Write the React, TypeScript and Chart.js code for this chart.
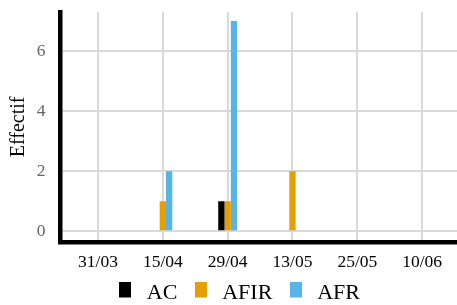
import React, { useEffect, useRef } from 'react';
import { Chart, registerables } from 'chart.js';

Chart.register(...registerables);

const categories = ['31/03', '15/04', '29/04', '13/05', '25/05', '10/06'];
const seriesNames = ['AC', 'AFIR', 'AFR'];
const acValues = [0, 0, 1, 0, 0, 0];
const afirValues = [0, 1, 1, 2, 0, 0];
const afrValues = [0, 2, 7, 0, 0, 0];
const seriesColors = ['#000000', '#E69F00', '#56B4E9'];
const yTicks = [0, 2, 4, 6];
const yTitle = 'Effectif';

const SERIF = "'Liberation Serif', 'Times New Roman', serif";

function legendSwatch(color: string) {
  const c = document.createElement('canvas');
  c.width = 12;
  c.height = 23;
  const g = c.getContext('2d')!;
  g.fillStyle = color;
  g.fillRect(0, 0, 12, 16);
  return c;
}

export default function App() {
  const ref = useRef<HTMLCanvasElement>(null);
  useEffect(() => {
    document.body.style.margin = '0';
    const values = [acValues, afirValues, afrValues];
    const swatches = seriesColors.map(legendSwatch);
    const chart = new Chart(ref.current!, {
      type: 'bar',
      data: {
        datasets: seriesNames.map((name, s) => ({
          label: name,
          data: categories.map((_, i) => ({ x: i, y: values[s][i] === 0 ? null : values[s][i] })),
          backgroundColor: seriesColors[s],
          borderWidth: 0,
          inflateAmount: 0,
          barThickness: 6.3,
        })),
      },
      options: {
        animation: false,
        responsive: false,
        events: [],
        layout: { padding: { top: 12, right: -18, bottom: 0, left: 0 } },
        scales: {
          x: {
            type: 'linear',
            min: -0.579,
            max: 5.538,
            offset: false,
            grid: { color: '#d9d9d9', lineWidth: 2, drawTicks: false, offset: false },
            border: { display: true, color: '#000000', width: 4.5 },
            afterBuildTicks: (s: any) => {
              s.ticks = categories.map((_, i) => ({ value: i }));
            },
            ticks: {
              autoSkip: false,
              maxRotation: 0,
              padding: 10.6,
              color: '#000000',
              font: { family: SERIF, size: 17.5 },
              callback: (v: any) => categories[v as number] ?? '',
            },
            afterFit: (s: any) => {
              s.height = 27.2;
              s.paddingLeft = 0;
              s.paddingRight = 0;
            },
          },
          y: {
            type: 'linear',
            min: -0.35,
            max: 7.3,
            beginAtZero: false,
            grid: { color: '#d9d9d9', lineWidth: 2, drawTicks: false },
            border: { display: true, color: '#000000', width: 4.5 },
            afterBuildTicks: (s: any) => {
              s.ticks = yTicks.map((v) => ({ value: v }));
            },
            ticks: {
              padding: 15,
              color: '#666666',
              font: { family: SERIF, size: 17.5 },
            },
            title: {
              display: true,
              text: yTitle,
              color: '#000000',
              font: { family: SERIF, size: 20 },
              padding: { top: 7, bottom: 0 },
            },
            afterFit: (s: any) => {
              s.width = 60.5;
              s.paddingTop = 0;
              s.paddingBottom = 0;
            },
          },
        },
        plugins: {
          legend: {
            position: 'bottom',
            maxHeight: 36,
            labels: {
              boxWidth: 20.8,
              usePointStyle: true,
              padding: 13,
              color: '#000000',
              font: { family: SERIF, size: 22 },
              generateLabels: (ch: any) =>
                ch.data.datasets.map((ds: any, i: number) => ({
                  text: ds.label,
                  fillStyle: seriesColors[i],
                  strokeStyle: seriesColors[i],
                  lineWidth: 0,
                  pointStyle: swatches[i],
                  hidden: false,
                  datasetIndex: i,
                })),
            },
          },
          tooltip: { enabled: false },
        },
      } as any,
    });
    return () => chart.destroy();
  }, []);
  return <canvas ref={ref} width={457} height={305} style={{ display: 'block' }} />;
}
